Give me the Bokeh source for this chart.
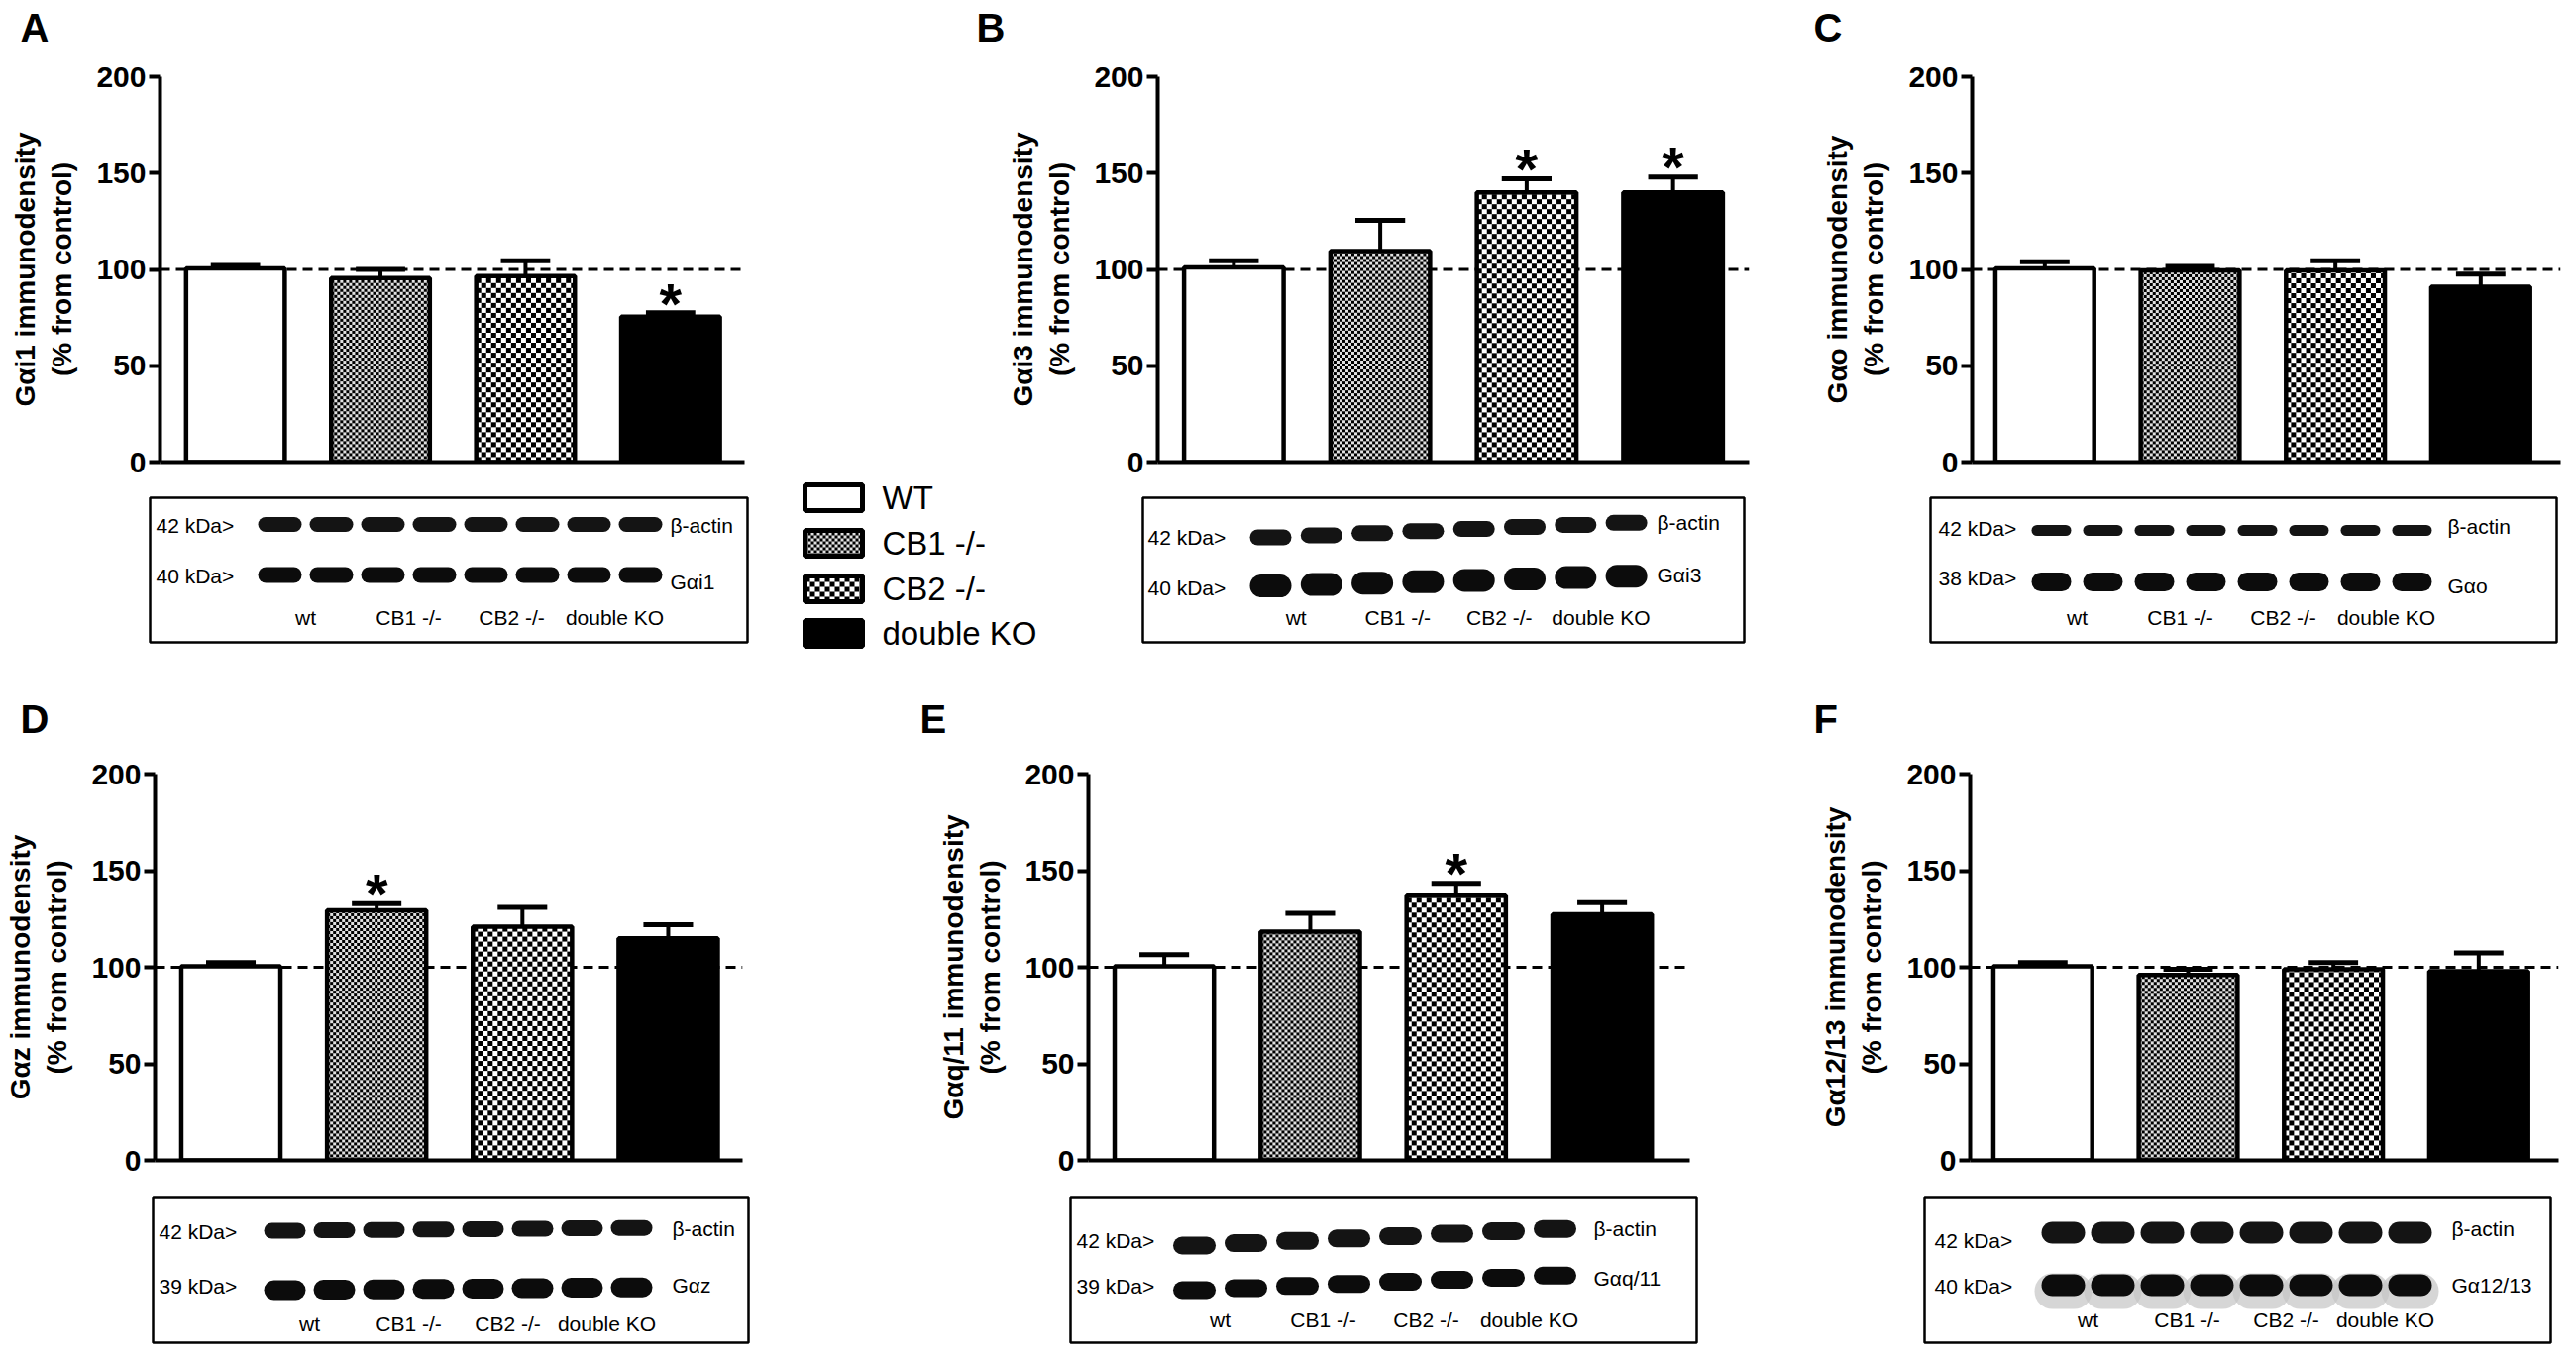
import numpy as np
from bokeh.plotting import figure
from bokeh.models import Range1d, FixedTicker, Span, ColumnDataSource
from bokeh.layouts import column, row
from bokeh.embed import file_html
from bokeh.resources import INLINE
from bokeh.core.properties import value

# ---------------- data ----------------
GROUPS = ["WT", "CB1 -/-", "CB2 -/-", "double KO"]
LANE_LABELS = ["wt", "CB1 -/-", "CB2 -/-", "double KO"]
Y_TICKS = [0, 50, 100, 150, 200]
CONTROL_LEVEL = 100

PANEL_LETTERS = ["A", "B", "C", "D", "E", "F"]
PROTEINS = ["Gαi1", "Gαi3", "Gαo", "Gαz", "Gαq/11", "Gα12/13"]
ACTIN_KDA = ["42 kDa>", "42 kDa>", "42 kDa>", "42 kDa>", "42 kDa>", "42 kDa>"]
TARGET_KDA = ["40 kDa>", "40 kDa>", "38 kDa>", "39 kDa>", "39 kDa>", "40 kDa>"]

MEAN_A = [100.5, 95.5, 96.5, 75.5]
SEM_A = [1.5, 4.5, 8.0, 2.0]
SIG_A = [False, False, False, True]

MEAN_B = [101.0, 109.5, 140.0, 140.0]
SEM_B = [3.5, 16.0, 7.0, 8.0]
SIG_B = [False, False, True, True]

MEAN_C = [100.5, 99.5, 99.5, 91.0]
SEM_C = [3.5, 2.0, 5.0, 6.5]
SIG_C = [False, False, False, False]

MEAN_D = [100.5, 129.5, 121.0, 115.0]
SEM_D = [2.0, 3.5, 10.0, 7.0]
SIG_D = [False, True, False, False]

MEAN_E = [100.5, 118.5, 137.0, 127.5]
SEM_E = [6.0, 9.5, 6.5, 6.0]
SIG_E = [False, False, True, False]

MEAN_F = [100.5, 96.0, 99.0, 98.0]
SEM_F = [2.0, 3.0, 3.5, 9.5]
SIG_F = [False, False, False, False]

MEANS = [MEAN_A, MEAN_B, MEAN_C, MEAN_D, MEAN_E, MEAN_F]
SEMS = [SEM_A, SEM_B, SEM_C, SEM_D, SEM_E, SEM_F]
SIGS = [SIG_A, SIG_B, SIG_C, SIG_D, SIG_E, SIG_F]

# ---------------- styles / layout ----------------
FONT = "Liberation Sans"
FILLS = ["white", "white", "white", "black"]
CHECK_CELL = [0, 3, 5, 0]          # checker cell size in px (0 = plain fill)
CHECK_LIGHT = [255, 225, 255, 255]
BAR_W = 0.68

BAR_LAYOUT = [
    dict(fig=(0, 980), frame=(161, 751), xr=(-0.52, 3.51)),
    dict(fig=(980, 1815), frame=(1168, 1765), xr=(-0.52, 3.52)),
    dict(fig=(1815, 2592), frame=(1990, 2584), xr=(-0.5, 3.55)),
    dict(fig=(0, 915), frame=(156, 749), xr=(-0.52, 3.51)),
    dict(fig=(915, 1815), frame=(1098, 1705), xr=(-0.52, 3.6)),
    dict(fig=(1815, 2592), frame=(1988, 2582), xr=(-0.5, 3.55)),
]
ROW_Y = [dict(fig=(56, 484), frame=(77, 466)),
         dict(fig=(750, 1188), frame=(781, 1171))]

LETTER_POS = [(20, 27), (985, 27), (1830, 27), (20, 725), (928, 725), (1830, 725)]

BLOT_LAYOUT = [
    dict(box=(151, 754, 502, 648), kda_x=157, kda_y=(530, 581), lane0=282, dx=52, bw=44,
         actin=(529, 15, 0.0), target=(580, 16, 0.0), right_x=676, right_y=(530, 587), lab_y=623, halo=False),
    dict(box=(1153, 1760, 502, 648), kda_x=1158, kda_y=(542, 593), lane0=1282, dx=51.3, bw=42,
         actin=(542, 16, -2.1), target=(591, 23, -1.4), right_x=1672, right_y=(527, 580), lab_y=623, halo=False),
    dict(box=(1948, 2580, 502, 648), kda_x=1956, kda_y=(533, 583), lane0=2070, dx=52, bw=40,
         actin=(535, 11, 0.0), target=(587, 19, 0.0), right_x=2470, right_y=(531, 591), lab_y=623, halo=False),
    dict(box=(154, 755, 1208, 1355), kda_x=160, kda_y=(1243, 1298), lane0=287, dx=50, bw=42,
         actin=(1242, 16, -0.4), target=(1302, 20, -0.4), right_x=678, right_y=(1240, 1297), lab_y=1336, halo=False),
    dict(box=(1080, 1712, 1208, 1355), kda_x=1086, kda_y=(1252, 1298), lane0=1205, dx=52, bw=43,
         actin=(1257, 18, -2.4), target=(1302, 18, -2.1), right_x=1608, right_y=(1240, 1290), lab_y=1332, halo=False),
    dict(box=(1942, 2574, 1208, 1355), kda_x=1952, kda_y=(1252, 1298), lane0=2082, dx=50, bw=44,
         actin=(1244, 22, 0.0), target=(1297, 22, 0.0), right_x=2474, right_y=(1240, 1297), lab_y=1332, halo=True),
]

LEGEND = dict(cx=841, w=58, h=26, ys=[502, 548, 594, 639], text_x=890)
PAGE_W = 2592


def checker(wpx, hpx, cell, light):
    wpx, hpx = max(int(round(wpx)), 1), max(int(round(hpx)), 1)
    yy, xx = np.mgrid[0:hpx, 0:wpx]
    mask = ((xx // cell) + (yy // cell)) % 2 == 0
    img = np.empty((hpx, wpx), dtype=np.uint32)
    v = img.view(dtype=np.uint8).reshape((hpx, wpx, 4))
    v[..., 3] = 255
    v[mask, 0:3] = 0
    v[~mask, 0:3] = light
    return img


def bar_panel(i, rowspec):
    lay = BAR_LAYOUT[i]
    fx0, fx1 = lay["fig"]
    px0, px1 = lay["frame"]
    fy0, fy1 = rowspec["fig"]
    py0, py1 = rowspec["frame"]
    n = len(GROUPS)
    xr = Range1d(*lay["xr"])
    yr = Range1d(Y_TICKS[0], Y_TICKS[-1])
    p = figure(width=fx1 - fx0, height=fy1 - fy0,
               min_border_left=px0 - fx0, min_border_right=fx1 - px1,
               min_border_top=py0 - fy0, min_border_bottom=fy1 - py1,
               x_range=xr, y_range=yr,
               output_backend="svg", toolbar_location=None, tools="")
    p.outline_line_color = None
    p.xgrid.visible = False
    p.ygrid.visible = False

    ya = p.yaxis[0]
    ya.ticker = FixedTicker(ticks=Y_TICKS)
    ya.axis_label = PROTEINS[i] + " immunodensity\n(% from control)"
    ya.axis_label_text_font = FONT
    ya.axis_label_text_font_style = "bold"
    ya.axis_label_text_font_size = "28px"
    ya.axis_label_text_color = "black"
    ya.axis_label_standoff = 16
    ya.major_label_text_font = FONT
    ya.major_label_text_font_style = "bold"
    ya.major_label_text_font_size = "30px"
    ya.major_label_text_color = "black"
    ya.major_label_standoff = 3
    ya.major_tick_out = 11
    ya.major_tick_in = 0
    ya.minor_tick_out = 0
    ya.minor_tick_in = 0
    ya.axis_line_width = 4
    ya.major_tick_line_width = 4

    xa = p.xaxis[0]
    xa.ticker = FixedTicker(ticks=[])
    xa.major_label_text_font_size = "0px"
    xa.major_tick_out = 0
    xa.major_tick_in = 0
    xa.minor_tick_out = 0
    xa.minor_tick_in = 0
    xa.axis_line_width = 4

    p.add_layout(Span(location=CONTROL_LEVEL, dimension="width", line_dash="10 6",
                      line_width=3, line_color="black", level="underlay"))

    xs = list(range(n))
    means = MEANS[i]
    sems = SEMS[i]
    tops = [m + s for m, s in zip(means, sems)]
    ppx = (px1 - px0) / (xr.end - xr.start)
    ppy = (py1 - py0) / (yr.end - yr.start)

    src = ColumnDataSource(dict(x=xs, top=means, err=tops, fill=FILLS))
    p.vbar(x="x", top="top", bottom=0, width=BAR_W, source=src, fill_color="fill", line_color=None)
    for k in range(n):
        if CHECK_CELL[k]:
            img = checker(BAR_W * ppx, means[k] * ppy, CHECK_CELL[k], CHECK_LIGHT[k])
            p.image_rgba(image=[img], x=xs[k] - BAR_W / 2, y=0, dw=BAR_W, dh=means[k])
    p.vbar(x="x", top="top", bottom=0, width=BAR_W, source=src, fill_color=None,
           line_color="black", line_width=4.5)
    p.segment(x0="x", y0="top", x1="x", y1="err", source=src, line_color="black", line_width=4)
    cap = 0.17
    p.segment(x0=[x - cap for x in xs], y0=tops, x1=[x + cap for x in xs], y1=tops,
              line_color="black", line_width=5)
    sx = [x for x, s in zip(xs, SIGS[i]) if s]
    sy = [t + 5 for t, s in zip(tops, SIGS[i]) if s]
    if sx:
        p.text(x=sx, y=sy, text=["*"] * len(sx), text_align="center", text_baseline="middle",
               text_font=value(FONT), text_font_size="58px", text_font_style="bold",
               text_color="black")
    return p


def strip(y0, y1, idxs, letters=(), legend=False):
    s = figure(width=PAGE_W, height=y1 - y0, x_range=Range1d(0, PAGE_W), y_range=Range1d(-y1, -y0),
               min_border=0, x_axis_type=None, y_axis_type=None, output_backend="svg",
               toolbar_location=None, tools="")
    s.outline_line_color = None
    s.grid.visible = False
    if letters:
        s.text(x=[LETTER_POS[j][0] for j in letters], y=[-LETTER_POS[j][1] for j in letters],
               text=[PANEL_LETTERS[j] for j in letters], text_font=value(FONT),
               text_font_style="bold", text_font_size="40px", text_baseline="middle",
               text_align="left", text_color="black")
    for i in idxs:
        b = BLOT_LAYOUT[i]
        x0, x1, t, btm = b["box"]
        s.quad(left=[x0], right=[x1], top=[-t], bottom=[-btm], fill_color="white",
               line_color="black", line_width=2.5)
        lanes = [b["lane0"] + b["dx"] * k for k in range(2 * len(LANE_LABELS))]
        for (yc, hh, slope), col in ((b["actin"], "#141414"), (b["target"], "#0c0c0c")):
            ys = [-(yc + slope * k) for k in range(len(lanes))]
            half = (b["bw"] - hh) / 2
            if b["halo"] and col == "#0c0c0c":
                s.segment(x0=[c - half for c in lanes], y0=[y - 6 for y in ys],
                          x1=[c + half for c in lanes], y1=[y - 6 for y in ys],
                          line_width=hh + 14, line_color="#c4c4c4", line_cap="round", line_alpha=0.7)
            s.segment(x0=[c - half for c in lanes], y0=ys, x1=[c + half for c in lanes], y1=ys,
                      line_width=hh, line_color=col, line_cap="round")
        s.text(x=[b["kda_x"], b["kda_x"]], y=[-b["kda_y"][0], -b["kda_y"][1]],
               text=[ACTIN_KDA[i], TARGET_KDA[i]],
               text_font=value(FONT), text_font_size="21px", text_baseline="middle",
               text_align="left", text_color="black")
        s.text(x=[b["right_x"], b["right_x"]], y=[-b["right_y"][0], -b["right_y"][1]],
               text=["β-actin", PROTEINS[i]],
               text_font=value(FONT), text_font_size="21px", text_baseline="middle",
               text_align="left", text_color="black")
        mids = [(lanes[2 * k] + lanes[2 * k + 1]) / 2 for k in range(len(LANE_LABELS))]
        s.text(x=mids, y=[-b["lab_y"]] * len(mids), text=LANE_LABELS, text_font=value(FONT),
               text_font_size="21px", text_baseline="middle", text_align="center", text_color="black")
    if legend:
        L = LEGEND
        n = len(GROUPS)
        s.rect(x=[L["cx"]] * n, y=[-y for y in L["ys"]], width=L["w"], height=L["h"],
               fill_color=FILLS, line_color=None)
        for k in range(n):
            if CHECK_CELL[k]:
                img = checker(L["w"], L["h"], CHECK_CELL[k], CHECK_LIGHT[k])
                s.image_rgba(image=[img], x=L["cx"] - L["w"] / 2, y=-(L["ys"][k] + L["h"] / 2),
                             dw=L["w"], dh=L["h"])
        s.rect(x=[L["cx"]] * n, y=[-y for y in L["ys"]], width=L["w"], height=L["h"],
               fill_color=None, line_color="black", line_width=5)
        s.text(x=[L["text_x"]] * n, y=[-y for y in L["ys"]], text=GROUPS, text_font=value(FONT),
               text_font_size="33px", text_baseline="middle", text_align="left", text_color="black")
    return s


strip0 = strip(0, 56, [], letters=[0, 1, 2])
row1 = row(*[bar_panel(i, ROW_Y[0]) for i in range(3)])
strip1 = strip(484, 750, [0, 1, 2], letters=[3, 4, 5], legend=True)
row2 = row(*[bar_panel(i, ROW_Y[1]) for i in range(3, 6)])
strip2 = strip(1188, 1362, [3, 4, 5])

page = column(strip0, row1, strip1, row2, strip2)
open("out.html", "w").write(file_html(page, INLINE))
